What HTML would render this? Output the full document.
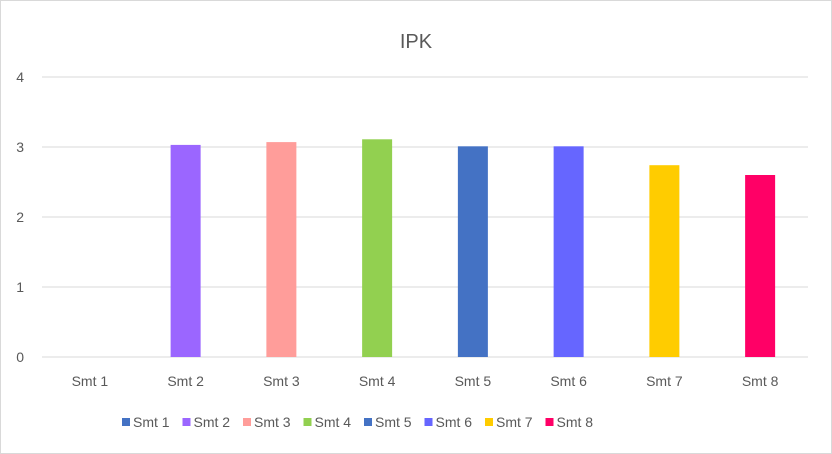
<!DOCTYPE html>
<html><head><meta charset="utf-8"><style>
body{margin:0;background:#fff;}
svg{display:block;font-family:"Liberation Sans",sans-serif;}
</style></head><body>
<svg id="chart" width="832" height="454" viewBox="0 0 832 454">
<rect x="0.5" y="0.5" width="831" height="453" fill="#fff" stroke="#d9d9d9"/>
<text x="416" y="48" text-anchor="middle" font-size="20" fill="#595959">IPK</text>
<g id="grid"></g><g id="bars"></g><g id="xlabels"></g><g id="legend"></g>
</svg>
<script>
const categories=["Smt 1","Smt 2","Smt 3","Smt 4","Smt 5","Smt 6","Smt 7","Smt 8"];
const values=[0,3.03,3.07,3.11,3.01,3.01,2.74,2.6];
const colors=["#4472C4","#9B66FF","#FF9D9A","#92D050","#4472C4","#6666FF","#FFCC00","#FF0066"];
const yTicks=[0,1,2,3,4];
const NS="http://www.w3.org/2000/svg";
const x0=42,x1=808,yBase=357,pxPerUnit=70;
const band=(x1-x0)/categories.length;
function y(v){return yBase-v*pxPerUnit;}
function xc(i){return x0+band*(i+0.5);}
function mk(t,a,p){const e=document.createElementNS(NS,t);for(const k in a)e.setAttribute(k,a[k]);p.appendChild(e);return e;}
const g=document.getElementById('grid');
yTicks.forEach(t=>{
 const l=mk('line',{x1:x0,x2:x1,y1:y(t),y2:y(t),stroke:'#d9d9d9','stroke-width':1},g);
 
 
 const tx=mk('text',{x:24,y:y(t)+5,'text-anchor':'end','font-size':14,fill:'#595959'},g);
 tx.textContent=t;
 
 
});
const b=document.getElementById('bars'),xl=document.getElementById('xlabels');
categories.forEach((c,i)=>{
 const r=mk('rect',{x:xc(i)-15,y:y(values[i]),width:30,height:values[i]*pxPerUnit,fill:colors[i]},b);
 
 
 const t=mk('text',{x:xc(i),y:386,'text-anchor':'middle','font-size':14,fill:'#595959'},xl);
 t.textContent=c;
 
 
});
const lg=document.getElementById('legend');
categories.forEach((c,i)=>{
 const lx=122+i*60.5;
 const gi=mk('g',{},lg);
 
 
 mk('rect',{x:lx,y:418,width:8,height:8,fill:colors[i]},gi);
 const t=mk('text',{x:lx+11,y:427,'font-size':14,fill:'#595959'},gi);
 t.textContent=c;
});
</script>
</body></html>
